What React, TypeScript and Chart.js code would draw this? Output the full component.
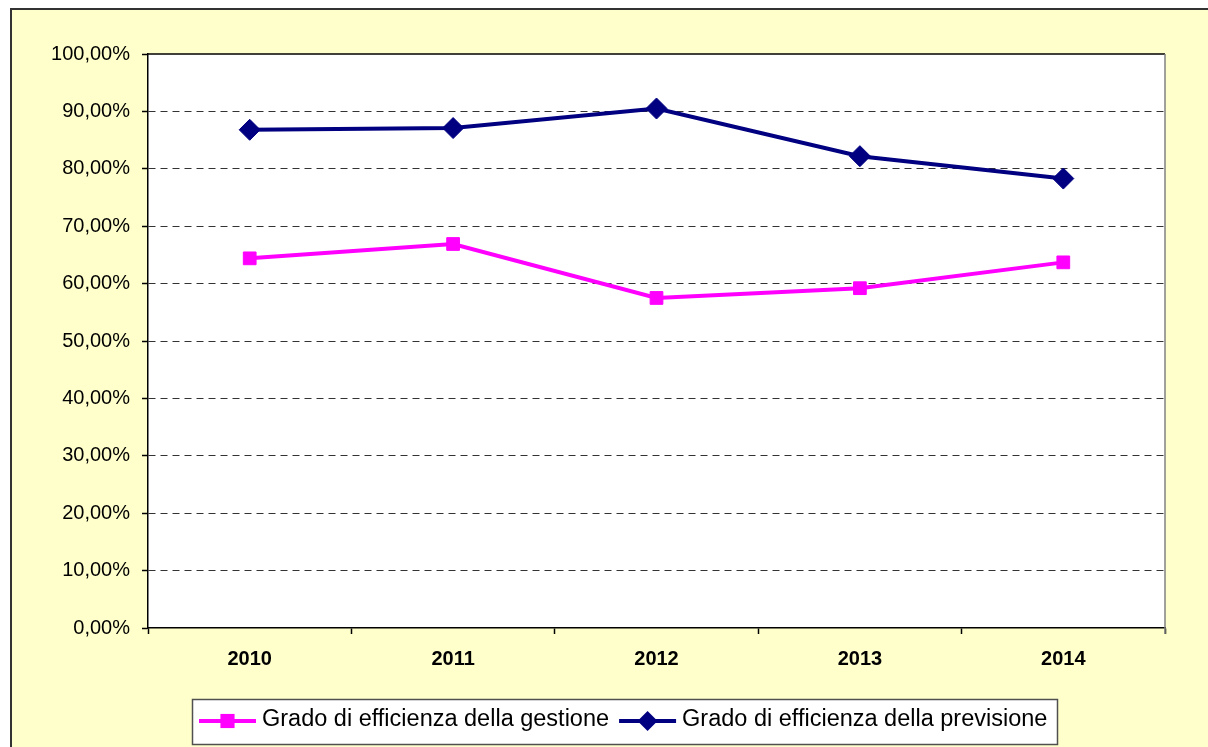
import React, { useEffect, useRef } from 'react';
import { Chart, registerables } from 'chart.js';

Chart.register(...registerables);

const years = ['2010', '2011', '2012', '2013', '2014'];
const gestione = [64.4, 66.9, 57.5, 59.2, 63.7];
const previsione = [86.8, 87.1, 90.5, 82.2, 78.3];
const seriesLabels = ['Grado di efficienza della gestione', 'Grado di efficienza della previsione'];
const seriesColors = ['#FF00FF', '#000080'];
const yMin = 0;
const yMax = 100;
const yStep = 10;

const W = 1208;
const H = 747;

function drawMarker(ctx: CanvasRenderingContext2D, style: string, x: number, y: number, r: number, color: string) {
  ctx.save();
  ctx.fillStyle = color;
  ctx.beginPath();
  if (style === 'rect') {
    const s = r * Math.SQRT1_2;
    ctx.rect(x - s, y - s, 2 * s, 2 * s);
  } else {
    ctx.moveTo(x, y - r);
    ctx.lineTo(x + r, y);
    ctx.lineTo(x, y + r);
    ctx.lineTo(x - r, y);
    ctx.closePath();
  }
  ctx.fill();
  ctx.restore();
}

const framePlugin = {
  id: 'frame',
  beforeDraw(chart: any) {
    const ctx = chart.ctx as CanvasRenderingContext2D;
    const a = chart.chartArea;
    ctx.save();
    ctx.fillStyle = '#FFFFFF';
    ctx.fillRect(0, 0, W, H);
    ctx.fillStyle = '#FFFFCC';
    ctx.fillRect(12, 10, W - 12, H - 10);
    ctx.strokeStyle = '#333333';
    ctx.lineWidth = 2;
    ctx.beginPath();
    ctx.moveTo(11, H);
    ctx.lineTo(11, 9);
    ctx.lineTo(W, 9);
    ctx.stroke();
    ctx.fillStyle = '#FFFFFF';
    ctx.fillRect(a.left, a.top, a.right - a.left, a.bottom - a.top);
    ctx.restore();
  },
  beforeDatasetsDraw(chart: any) {
    const ctx = chart.ctx as CanvasRenderingContext2D;
    const a = chart.chartArea;
    ctx.save();
    ctx.lineWidth = 1.5;
    ctx.strokeStyle = '#000000';
    ctx.beginPath();
    ctx.moveTo(a.left, a.top);
    ctx.lineTo(a.right, a.top);
    ctx.stroke();
    ctx.strokeStyle = '#808080';
    ctx.beginPath();
    ctx.moveTo(a.right, a.top);
    ctx.lineTo(a.right, a.bottom + 6);
    ctx.stroke();
    ctx.restore();
  },
  afterDraw(chart: any) {
    const ctx = chart.ctx as CanvasRenderingContext2D;
    ctx.save();
    const bx = 192.5, by = 699.5, bw = 865, bh = 45;
    ctx.fillStyle = '#FFFFFF';
    ctx.fillRect(bx, by, bw, bh);
    ctx.strokeStyle = '#505050';
    ctx.lineWidth = 1.5;
    ctx.strokeRect(bx, by, bw, bh);
    ctx.font = '23.5px "Liberation Sans", Arial, sans-serif';
    ctx.textBaseline = 'alphabetic';
    ctx.textAlign = 'left';
    const styles = ['rect', 'rectRot'];
    const radii = [10, 10];
    let x = 199;
    const ly = 721;
    chart.data.datasets.forEach((ds: any, i: number) => {
      ctx.strokeStyle = ds.borderColor;
      ctx.lineWidth = 4;
      ctx.beginPath();
      ctx.moveTo(x, ly);
      ctx.lineTo(x + 57, ly);
      ctx.stroke();
      drawMarker(ctx, styles[i], x + 28.5, ly, radii[i], ds.borderColor);
      const tx = x + 63;
      ctx.fillStyle = '#000000';
      ctx.fillText(ds.label, tx, 726);
      x = tx + ctx.measureText(ds.label).width + 10;
    });
    ctx.restore();
  },
};

export default function App() {
  const ref = useRef<HTMLCanvasElement>(null);

  useEffect(() => {
    document.body.style.margin = '0';
    const canvas = ref.current!;
    const chart = new Chart(canvas, {
      type: 'line',
      data: {
        labels: years,
        datasets: [
          {
            label: seriesLabels[0],
            data: gestione,
            borderColor: seriesColors[0],
            backgroundColor: seriesColors[0],
            borderWidth: 4,
            pointStyle: 'rect',
            pointRadius: 9,
            pointBorderWidth: 1,
            tension: 0,
          },
          {
            label: seriesLabels[1],
            data: previsione,
            borderColor: seriesColors[1],
            backgroundColor: seriesColors[1],
            borderWidth: 4,
            pointStyle: 'rectRot',
            pointRadius: 10.5,
            pointBorderWidth: 1,
            tension: 0,
          },
        ],
      },
      plugins: [framePlugin],
      options: {
        responsive: false,
        animation: false,
        devicePixelRatio: 1,
        layout: { padding: { top: 54, right: 43, left: 0, bottom: 0 } },
        plugins: {
          legend: { display: false },
          tooltip: { enabled: false },
          title: { display: false },
        },
        scales: {
          x: {
            type: 'category',
            offset: true,
            afterFit: (s: any) => { s.height = 119; },
            grid: {
              offset: true,
              drawOnChartArea: false,
              drawTicks: true,
              tickLength: 6,
              tickColor: '#000000',
              tickWidth: 1.5,
            },
            border: { display: true, color: '#000000', width: 1.5 },
            ticks: {
              color: '#000000',
              padding: 13,
              font: { family: '"Liberation Sans", Arial, sans-serif', size: 20, weight: 'bold' },
              maxRotation: 0,
            },
          },
          y: {
            min: yMin,
            max: yMax,
            afterFit: (s: any) => { s.width = 148; },
            grid: {
              color: (c: any) => (c.tick && (c.tick.value === yMin || c.tick.value === yMax) ? 'rgba(0,0,0,0)' : '#333333'),
              lineWidth: 1,
              drawTicks: true,
              tickLength: 6,
              tickColor: '#000000',
              tickWidth: 1.5,
              tickBorderDash: [],
            },
            border: { display: true, color: '#000000', width: 1.5, dash: [7, 5] },
            ticks: {
              stepSize: yStep,
              color: '#000000',
              padding: 12,
              font: { family: '"Liberation Sans", Arial, sans-serif', size: 20 },
              callback: (v: any) => Number(v).toFixed(2).replace('.', ',') + '%',
            },
          },
        },
      } as any,
    });
    return () => chart.destroy();
  }, []);

  return (
    <div style={{ position: 'fixed', left: 0, top: 0, width: W, height: H }}>
      <canvas ref={ref} width={W} height={H} style={{ display: 'block', width: W, height: H }} />
    </div>
  );
}
